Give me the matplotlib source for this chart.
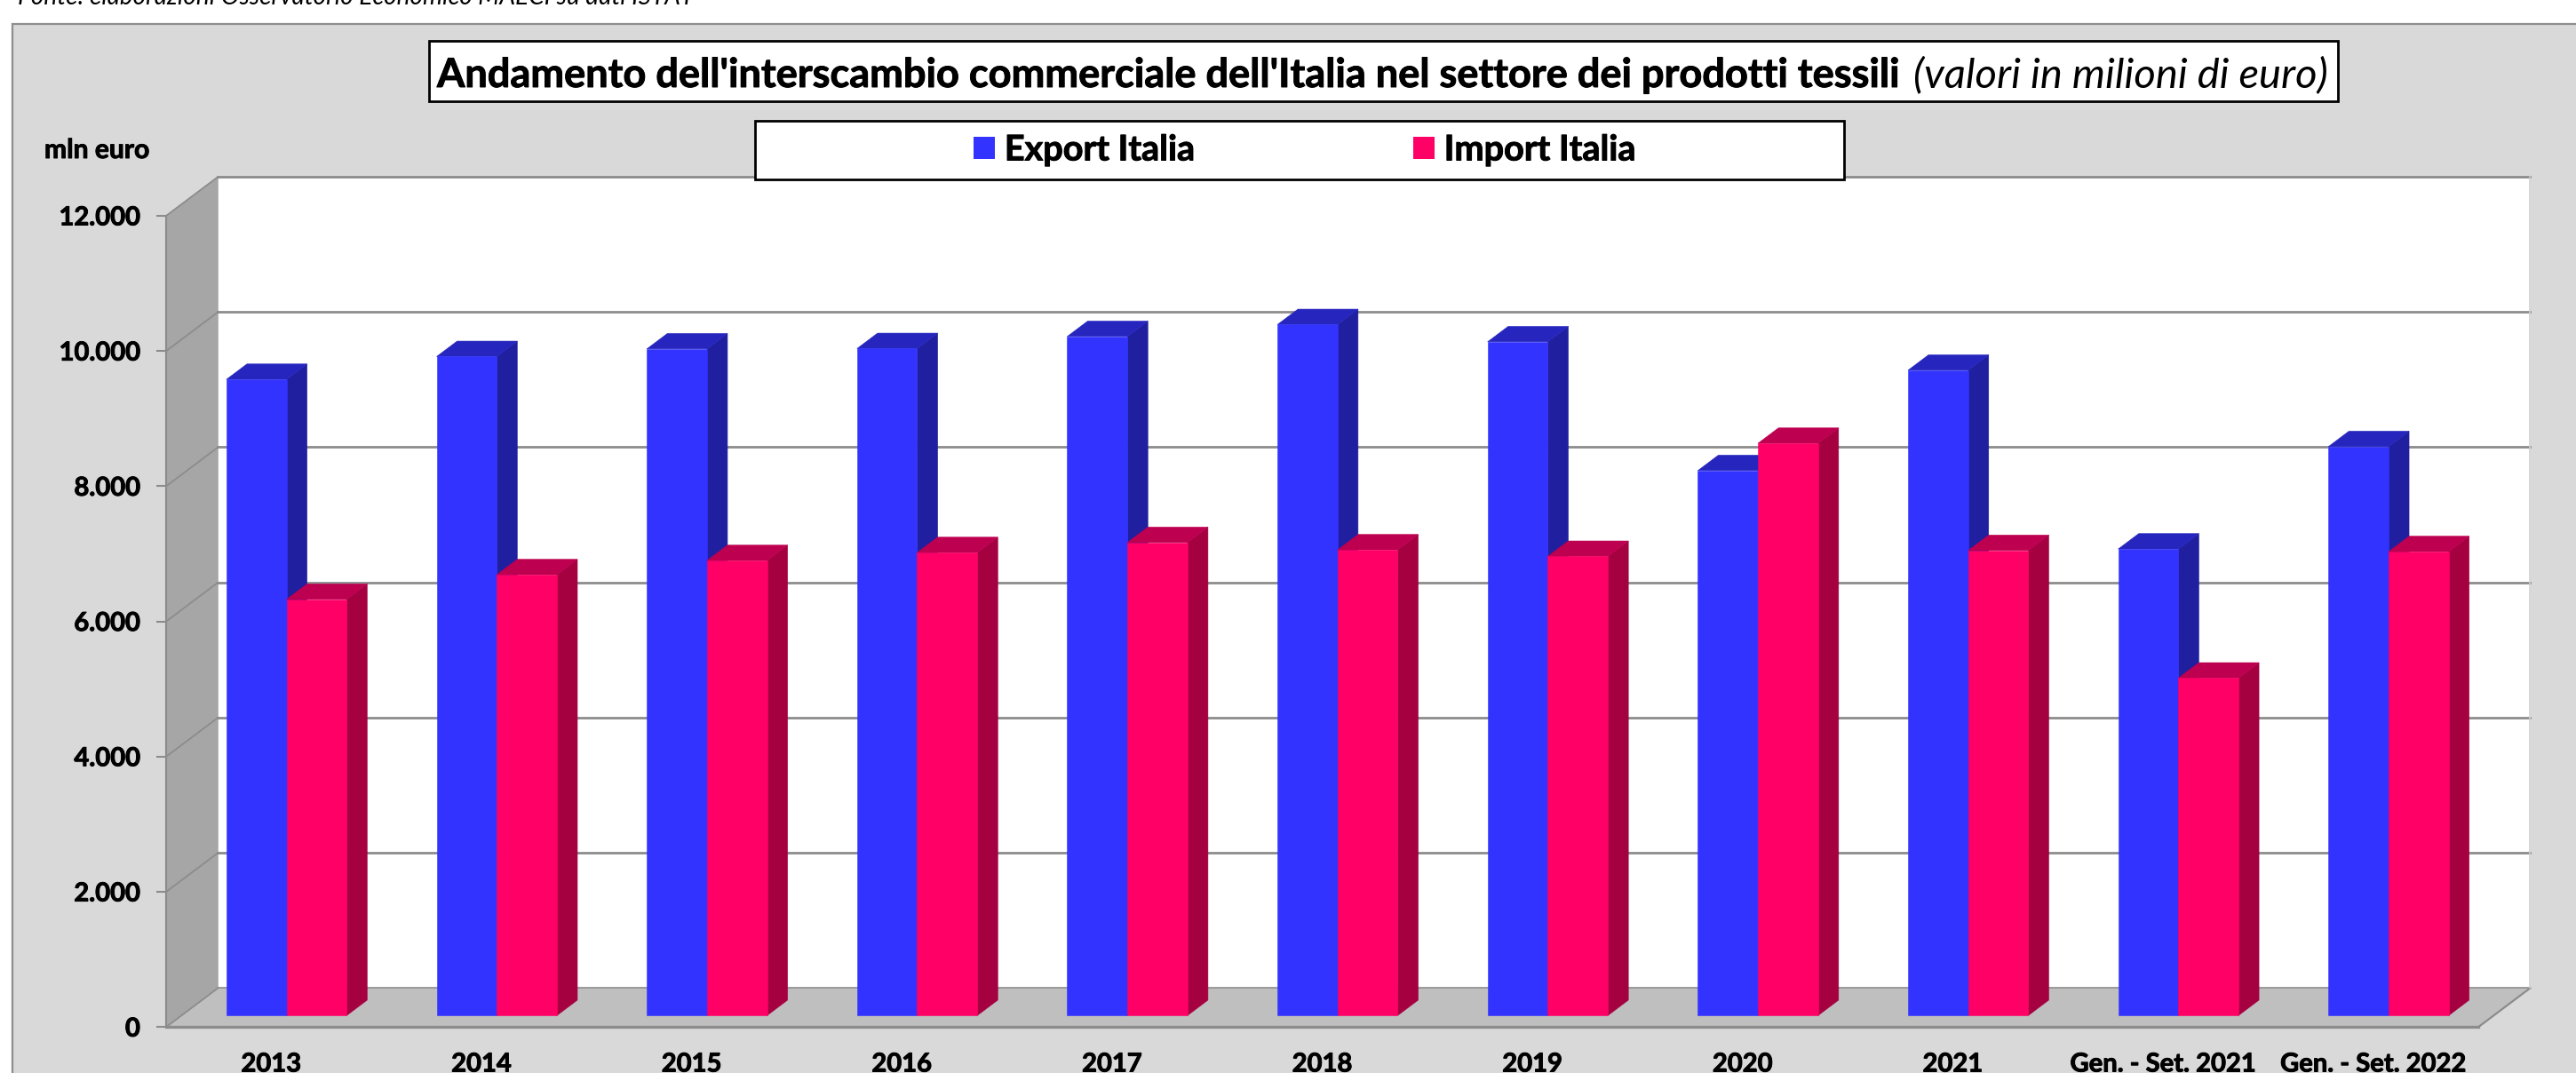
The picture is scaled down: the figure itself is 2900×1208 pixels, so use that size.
import matplotlib
matplotlib.use("Agg")
import matplotlib.pyplot as plt
import matplotlib.patheffects as pe
from matplotlib.patches import Polygon, Rectangle, Patch
from matplotlib.lines import Line2D

W, H = 2900, 1208
plt.rcParams['font.family'] = ['Lato', 'DejaVu Sans']

categories = ['2013', '2014', '2015', '2016', '2017', '2018', '2019', '2020', '2021',
              'Gen. - Set. 2021', 'Gen. - Set. 2022']
export_it = [9410, 9748, 9861, 9866, 10045, 10221, 9966, 8061, 9545, 6901, 8416]
import_it = [6156, 6520, 6730, 6848, 6997, 6888, 6792, 8464, 6879, 4992, 6862]
y_ticks = [0, 2000, 4000, 6000, 8000, 10000, 12000]
y_labels = ['0', '2.000', '4.000', '6.000', '8.000', '10.000', '12.000']

C_EXP = ('#3333FF', '#2626BF', '#1F1FA0')
C_IMP = ('#FF0066', '#BD0050', '#A50040')
GRID = '#8C8C8C'
THICK = [pe.withStroke(linewidth=0.7, foreground='black')]

fig = plt.figure(figsize=(W / 100, H / 100), dpi=100, facecolor='white')
figT = fig.transFigure


def fx(px):
    return px / W


def fy(py):
    return 1 - py / H


def box(x0, y0, x1, y1, **kw):
    fig.add_artist(Rectangle((fx(x0), fy(y1)), fx(x1) - fx(x0), fy(y0) - fy(y1), transform=figT, **kw))


# outer panel (runs off the right and bottom edges)
box(14, 27, 2920, 1230, facecolor='#D9D9D9', edgecolor='#8E8E8E', linewidth=1.6, zorder=0)

ax = fig.add_axes([fx(187), fy(1156.3), fx(2790) - fx(187), fy(243) - fy(1156.3)])
ax.set_facecolor('none')
ax.set_xlim(0, len(categories))
ax.set_ylim(0, 12000)
ax.set_zorder(1)

DX = 58.5 / 236.64
DY = 44 / 0.07612


def P(x, y, d):
    return (x + d * DX, y + d * DY)


def poly(pts, color, z, lw=0.4):
    ax.add_patch(Polygon(pts, closed=True, facecolor=color, edgecolor=color, linewidth=lw,
                         clip_on=False, zorder=z))


n = len(categories)
# walls and floor
poly([P(0, 0, 1), P(n, 0, 1), P(n, 12000, 1), P(0, 12000, 1)], 'white', 1)
poly([P(0, 0, 0), P(0, 0, 1), P(0, 12000, 1), P(0, 12000, 0)], '#A6A6A6', 1)
poly([P(0, 0, 0), P(n, 0, 0), P(n, 0, 1), P(0, 0, 1)], '#BFBFBF', 1)

for v in y_ticks:
    xs, ys = zip(P(0, v, 0), P(0, v, 1))
    ax.add_line(Line2D(xs, ys, color=GRID, lw=1.3, zorder=2, clip_on=False))
    xs, ys = zip(P(0, v, 1), P(n, v, 1))
    ax.add_line(Line2D(xs, ys, color=GRID, lw=2.0 if v else 1.2, zorder=2, clip_on=False))
xs, ys = zip(P(n, 0, 0), P(n, 0, 1))
ax.add_line(Line2D(xs, ys, color=GRID, lw=1.6, zorder=2, clip_on=False))
xs, ys = zip(P(n, 0, 1), P(n, 12000, 1))
ax.add_line(Line2D(xs, ys, color='#D0D0D0', lw=1.2, zorder=2, clip_on=False))

# 3D-looking bars
BW = 0.286
D0, D1 = 0.295, 0.69


def bar3d(x0, v, cols, z):
    x1 = x0 + BW
    poly([P(x1, 0, D0), P(x1, 0, D1), P(x1, v, D1), P(x1, v, D0)], cols[2], z)
    poly([P(x0, v, D0), P(x1, v, D0), P(x1, v, D1), P(x0, v, D1)], cols[1], z + 0.1)
    poly([P(x0, 0, D0), P(x1, 0, D0), P(x1, v, D0), P(x0, v, D0)], cols[0], z + 0.2)


for i, (e, m) in enumerate(zip(export_it, import_it)):
    c = i + 0.5
    bar3d(c - BW, e, C_EXP, 3 + i)
    bar3d(c, m, C_IMP, 3.5 + i)

# axes
for s in ('top', 'right'):
    ax.spines[s].set_visible(False)
ax.spines['left'].set_color(GRID)
ax.spines['left'].set_linewidth(1.5)
ax.spines['left'].set_zorder(20)
ax.spines['bottom'].set_color(GRID)
ax.spines['bottom'].set_linewidth(2.4)
ax.spines['bottom'].set_zorder(20)
ax.set_yticks(y_ticks, y_labels)
ax.set_xticks([i + 0.5 for i in range(n)], categories)
ax.tick_params(axis='y', length=8, width=1.5, color=GRID, pad=13, labelsize=21)
ax.tick_params(axis='x', length=0, pad=21, labelsize=21)
for t in ax.get_yticklabels() + ax.get_xticklabels():
    t.set_fontweight('bold')
    t.set_path_effects(THICK)

fig.canvas.draw()
rend = fig.canvas.get_renderer()


def fit_text(s, x0, x1, baseline, **kw):
    t = fig.text(fx(x0), fy(baseline), s, ha='left', va='baseline', zorder=30, **kw)
    w = t.get_window_extent(rend).width
    t.set_fontsize(t.get_fontsize() * (x1 - x0) / w)
    return t


fit_text('Fonte: elaborazioni Osservatorio Economico MAECI su dati ISTAT', 20, 784, 5,
         fontstyle='italic', fontsize=18)
fit_text('mln euro', 50, 168, 178, fontweight='bold', fontsize=20, path_effects=THICK)

# title box
box(483, 46, 2632, 114, facecolor='white', edgecolor='black', linewidth=2, zorder=25)
fit_text("Andamento dell'interscambio commerciale dell'Italia nel settore dei prodotti tessili",
         492, 2137, 98, fontweight='bold', fontsize=30, path_effects=THICK)
fit_text('(valori in milioni di euro)', 2154, 2621, 98, fontstyle='italic', fontsize=30)

# legend box
box(850, 136, 2076, 202, facecolor='white', edgecolor='black', linewidth=2, zorder=25)
leg = fig.legend(handles=[Patch(facecolor=C_EXP[0], label='Export Italia'),
                          Patch(facecolor=C_IMP[0], label='Import Italia')],
                 ncol=2, loc='center left', bbox_to_anchor=(fx(1096), fy(169)),
                 frameon=False, borderpad=0, borderaxespad=0,
                 prop={'size': 28.5, 'weight': 'bold'},
                 handlelength=0.6, handleheight=0.6, handletextpad=0.28, columnspacing=6.2)
leg.set_zorder(30)
for t in leg.get_texts():
    t.set_path_effects(THICK)

fig.savefig('out.png', dpi=100, facecolor='white')
